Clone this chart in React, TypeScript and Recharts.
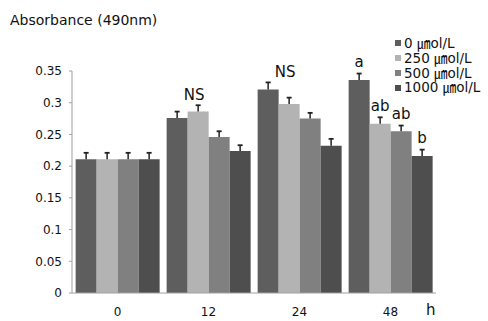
import { BarChart, Bar, XAxis, YAxis, LabelList, Rectangle } from 'recharts';

const hours = ['0', '12', '24', '48'];
const doseNames = ['0 ㎛ol/L', '250 ㎛ol/L', '500 ㎛ol/L', '1000 ㎛ol/L'];

const dose0 = [0.211, 0.276, 0.321, 0.336];
const dose250 = [0.211, 0.286, 0.298, 0.267];
const dose500 = [0.211, 0.246, 0.275, 0.255];
const dose1000 = [0.211, 0.224, 0.232, 0.216];

const err0 = [0.01, 0.01, 0.011, 0.01];
const err250 = [0.01, 0.01, 0.01, 0.01];
const err500 = [0.01, 0.009, 0.009, 0.009];
const err1000 = [0.01, 0.009, 0.011, 0.01];

// letters over the 48 h bars, "NS" over the whole group
const sig0 = ['', '', '', 'a'];
const sig250 = ['', '', '', 'ab'];
const sig500 = ['', '', '', 'ab'];
const sig1000 = ['', '', '', 'b'];
const groupNotes = ['', 'NS', 'NS', ''];

const yTicks = [0, 0.05, 0.1, 0.15, 0.2, 0.25, 0.3, 0.35];

const colors = ['#5e5e5e', '#b3b3b3', '#808080', '#4e4e4e'];
const font = "'DejaVu Sans', 'Noto Sans CJK KR', sans-serif";

const data = hours.map((h, i) => ({
  h,
  v0: dose0[i],
  v1: dose250[i],
  v2: dose500[i],
  v3: dose1000[i],
  e0: err0[i],
  e1: err250[i],
  e2: err500[i],
  e3: err1000[i],
  s0: sig0[i],
  s1: sig250[i],
  s2: sig500[i],
  s3: sig1000[i],
  note: groupNotes[i],
}));

// bar plus an upper-only error whisker, scaled from the bar's own height
const barWithError = (errKey: string) => (props: any) => {
  const { x, y, width, height, value, payload, fill } = props;
  const v = Array.isArray(value) ? value[1] - value[0] : value;
  const err = payload[errKey];
  const top = y - (err * height) / v;
  const cx = x + width / 2;
  return (
    <g>
      <Rectangle x={x} y={y} width={width} height={height} fill={fill} />
      <line x1={cx} x2={cx} y1={y} y2={top} stroke="#222" strokeWidth={1.5} />
      <line x1={cx - 2.5} x2={cx + 2.5} y1={top} y2={top} stroke="#222" strokeWidth={1.8} />
    </g>
  );
};

const renderSig = (props: any) => {
  const { x, y, width, value } = props;
  if (!value) return null;
  return (
    <text x={x + width / 2} y={y - 12.5} textAnchor="middle" fontSize={15} fill="#111" fontFamily={font}>
      {value}
    </text>
  );
};

const renderNote = (props: any) => {
  const { x, y, width, height, value, index } = props;
  if (!value) return null;
  const v = dose250[index];
  const max = Math.max(dose0[index], dose250[index], dose500[index], dose1000[index]);
  const top = y + height - (max * height) / v;
  return (
    <text x={x + width / 2 - 4} y={top - 12} textAnchor="middle" fontSize={15} fill="#111" fontFamily={font}>
      {value}
    </text>
  );
};

const seriesKeys = ['v0', 'v1', 'v2', 'v3'];

export default function App() {
  return (
    <div style={{ position: 'absolute', left: 0, top: 0, width: 488, height: 321, background: '#fff', fontFamily: font }}>
      <div style={{ position: 'absolute', left: 10, top: 12, fontSize: 14, color: '#111', whiteSpace: 'nowrap' }}>
        Absorbance (490nm)
      </div>
      <div style={{ position: 'absolute', left: 395, top: 36, fontSize: 13.5, color: '#111', lineHeight: '14.8px' }}>
        {doseNames.map((name, i) => (
          <div key={name} style={{ display: 'flex', alignItems: 'center', whiteSpace: 'nowrap' }}>
            <span style={{ display: 'inline-block', width: 6, height: 6, background: colors[i], marginRight: 3 }} />
            {name}
          </div>
        ))}
      </div>
      <div style={{ position: 'absolute', left: 426, top: 303, fontSize: 15, lineHeight: '15px', color: '#111' }}>h</div>
      <BarChart
        width={488}
        height={321}
        data={data}
        margin={{ top: 71, right: 52, bottom: 8, left: 0 }}
        barCategoryGap="4%"
        barGap={0}
      >
        <XAxis
          dataKey="h"
          height={20}
          tickLine={false}
          tickMargin={8}
          stroke="#a0a0a0"
          tick={{ fill: '#111', fontSize: 12, fontFamily: font }}
        />
        <YAxis
          width={72}
          domain={[0, 0.35]}
          ticks={yTicks}
          interval={0}
          tickSize={3}
          tickMargin={7}
          stroke="#a0a0a0"
          tick={{ fill: '#111', fontSize: 12, fontFamily: font }}
        />
        {seriesKeys.map((k, i) => (
          <Bar key={k} dataKey={k} fill={colors[i]} isAnimationActive={false} shape={barWithError('e' + i)}>
            <LabelList dataKey={'s' + i} content={renderSig} />
            {i === 1 && <LabelList dataKey="note" content={renderNote} />}
          </Bar>
        ))}
      </BarChart>
    </div>
  );
}
